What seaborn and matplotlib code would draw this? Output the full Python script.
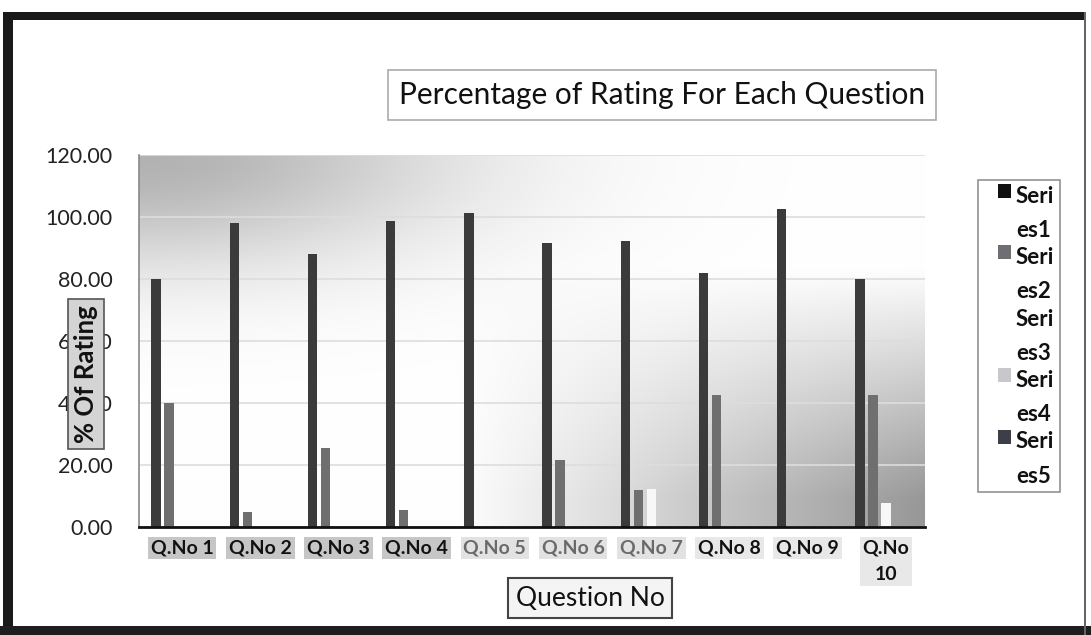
import numpy as np
import pandas as pd
import matplotlib
matplotlib.use("Agg")
import matplotlib.pyplot as plt
import matplotlib.patches as mpatches
from matplotlib.legend_handler import HandlerPatch
import seaborn as sns

# ---- data ----
questions = ["Q.No 1", "Q.No 2", "Q.No 3", "Q.No 4", "Q.No 5",
             "Q.No 6", "Q.No 7", "Q.No 8", "Q.No 9", "Q.No\n10"]
series_names = ["Series1", "Series2", "Series3", "Series4", "Series5"]
series1 = [80.0, 98.0, 88.0, 98.7, 101.4, 91.7, 92.2, 82.0, 102.6, 80.0]
series2 = [40.0, 4.8, 25.5, 5.5, 0.0, 21.6, 12.0, 42.6, 0.0, 42.6]
series3 = [0.0, 0.0, 0.0, 0.0, 0.0, 0.0, 12.2, 0.0, 0.0, 7.8]
series4 = [0.0, 0.0, 0.0, 0.0, 0.0, 0.0, 0.0, 0.0, 0.0, 0.0]
series5 = [0.0, 0.0, 0.0, 0.0, 0.0, 0.0, 0.0, 0.0, 0.0, 0.0]
legend_labels = ["Seri\nes1", "Seri\nes2", "Seri\nes3", "Seri\nes4", "Seri\nes5"]
yticks = [0, 20, 40, 60, 80, 100, 120]

colors = ["#3b3b3b", "#6f6f6f", "#f7f7f7", "#c3c3c3", "#3d3f44"]
legend_colors = ["#111111", "#6f6f73", "#ffffff", "#c8c8cc", "#3d3f48"]

rows = []
for name, vals in zip(series_names, [series1, series2, series3, series4, series5]):
    for q, v in zip(questions, vals):
        rows.append({"Question": q, "Series": name, "Value": v})
df = pd.DataFrame(rows)

sns.set_theme(style="white")
plt.rcParams["font.family"] = ["Lato", "DejaVu Sans"]

W, H = 1091, 635
fig = plt.figure(figsize=(W / 100, H / 100), dpi=100)
fig.patch.set_facecolor("white")

L, R, T, B = 139, 925, 155, 527
ax = fig.add_axes([L / W, 1 - B / H, (R - L) / W, (B - T) / H])

# background gradient of the plot area (decoration); row 0 = top
xx, yy = np.meshgrid(np.linspace(0, 1, 300), np.linspace(0, 1, 200))
tl = np.exp(-((xx / 0.40) ** 2 + (yy / 0.30) ** 2))
br = np.clip((xx - 0.40) * 1.5, 0, 1) * np.clip((yy - 0.30) * 1.6, 0, 1)
shade = 1 - 0.30 * tl - 0.45 * np.clip(br, 0, 1)
img = np.dstack([shade, shade, shade])
ax.imshow(img, extent=[0, 1, 0, 1], transform=ax.transAxes, aspect="auto",
          origin="upper", zorder=0, interpolation="bilinear")

sns.barplot(data=df, x="Question", y="Value", hue="Series", hue_order=series_names,
            palette=colors, width=0.83, gap=0.28, saturation=1, ax=ax,
            legend=False, zorder=3, edgecolor="none", linewidth=0)

ax.set_xlim(-0.55, 9.5)
ax.set_ylim(0, 120)
ax.set_yticks(yticks)
ax.set_yticklabels([f"{v:.2f}" for v in yticks], fontsize=15.5, color="#222222")
ax.yaxis.grid(True, color="#dddddd", linewidth=1.2, zorder=1)
ax.set_axisbelow(True)
ax.tick_params(axis="both", length=0)
ax.tick_params(axis="x", pad=9)
ax.tick_params(axis="y", pad=19)

for sp in ["top", "right"]:
    ax.spines[sp].set_visible(False)
ax.spines["left"].set_color("#888888")
ax.spines["left"].set_linewidth(1.2)
ax.spines["bottom"].set_color("#111111")
ax.spines["bottom"].set_linewidth(2.0)
ax.spines["bottom"].set_zorder(5)

bgs = ["#c6c6c6"] * 4 + ["#e2e2e2"] * 3 + ["#e8e8e8"] * 3
fgs = ["#111111"] * 4 + ["#6a6a6a"] * 3 + ["#111111"] * 3
for lab, bg, fg in zip(ax.get_xticklabels(), bgs, fgs):
    lab.set_fontsize(14)
    lab.set_fontweight("bold")
    lab.set_color(fg)
    lab.set_linespacing(1.7)
    lab.set_bbox(dict(boxstyle="square,pad=0.15", fc=bg, ec="none"))

ax.set_xlabel("Question No", fontsize=19, color="#111111",
              bbox=dict(boxstyle="square,pad=0.28", fc="#f4f4f4", ec="#444444", lw=1.5))
ax.xaxis.label.set_va("center")
ax.xaxis.set_label_coords((590 - L) / (R - L), (B - 598) / (B - T))
ax.set_ylabel("% Of Rating", fontsize=18.5, fontweight="bold", color="#111111",
              bbox=dict(boxstyle="square,pad=0.25", fc="#d4d4d4", ec="#555555", lw=1.2))
ax.yaxis.label.set_va("center")
ax.yaxis.label.set_zorder(6)
ax.yaxis.set_label_coords((86 - L) / (R - L), (B - 374) / (B - T))

fig.text(662 / W, 1 - 95 / H, "Percentage of Rating For Each Question",
         ha="center", va="center", fontsize=21.5, color="#111111",
         bbox=dict(boxstyle="square,pad=0.38", fc="white", ec="#aaaaaa", lw=1.2))


class UpHandler(HandlerPatch):
    def create_artists(self, legend, orig_handle, xdescent, ydescent, width,
                       height, fontsize, trans):
        s = fontsize * 0.62
        p = mpatches.Rectangle((-xdescent + width - s, -ydescent + height * 1.55),
                               s, s, facecolor=orig_handle.get_facecolor(),
                               edgecolor="none", transform=trans)
        return [p]


handles = [mpatches.Patch(facecolor=c, edgecolor="none") for c in legend_colors]
leg = fig.legend(handles, legend_labels, loc="upper left",
                 bbox_to_anchor=(978 / W, 1 - 180 / H),
                 handler_map={mpatches.Patch: UpHandler()},
                 prop={"size": 16, "weight": "bold"}, frameon=True, fancybox=False,
                 handlelength=1.25, handletextpad=0.2, labelspacing=0.28,
                 borderpad=0.25, borderaxespad=0)
leg.get_frame().set_edgecolor("#777777")
leg.get_frame().set_linewidth(1.2)
for t in leg.get_texts():
    t.set_linespacing(1.78)
    t.set_color("#111111")

# outer dark frame (photo border)
fig.add_artist(mpatches.Rectangle((3 / W, 0), 10 / W, (H - 12) / H,
                                  transform=fig.transFigure, fc="#1a1a1a", ec="none"))
fig.add_artist(mpatches.Rectangle((3 / W, 1 - 20 / H), (1086 - 3) / W, 8 / H,
                                  transform=fig.transFigure, fc="#1a1a1a", ec="none"))
fig.add_artist(mpatches.Rectangle((0, 0), 1, 9 / H,
                                  transform=fig.transFigure, fc="#1e1e1e", ec="none"))
fig.add_artist(mpatches.Rectangle((1084 / W, 0), 2 / W, (H - 12) / H,
                                  transform=fig.transFigure, fc="#666666", ec="none"))

fig.savefig("out.png", dpi=100)
